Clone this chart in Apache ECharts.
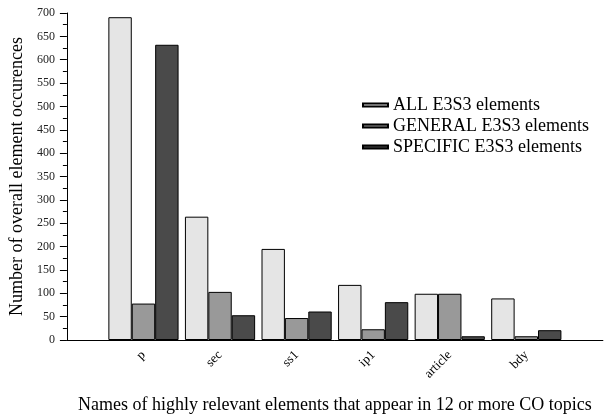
<!DOCTYPE html>
<html>
<head>
<meta charset="utf-8">
<script src="https://cdn.jsdelivr.net/npm/echarts@6/dist/echarts.min.js"></script>
<style>
html,body{margin:0;padding:0;background:#fff;}
#chart{width:605px;height:419px;}
</style>
</head>
<body>
<div id="chart"></div>
<script>
var categories = ['p', 'sec', 'ss1', 'ip1', 'article', 'bdy'];
var seriesNames = ['ALL E3S3 elements', 'GENERAL E3S3 elements', 'SPECIFIC E3S3 elements'];
var allValues = [691, 264, 195, 118, 99, 89];
var generalValues = [78, 103, 47, 23, 99, 8];
var specificValues = [632, 53, 61, 81, 8, 21];
var yTicks = [0, 50, 100, 150, 200, 250, 300, 350, 400, 450, 500, 550, 600, 650, 700];

// empty padding slots at both ends of the category axis
var axisCats = [''].concat(categories).concat(['']);
function pad(arr) { return [null].concat(arr).concat([null]); }

var FONT = '"Liberation Serif", "Times New Roman", serif';
var colors = ['#e5e5e5', '#999999', '#4a4a4a'];

var chart = echarts.init(document.getElementById('chart'), null, {renderer: 'canvas'});
var valuesList = [allValues, generalValues, specificValues];
var series = seriesNames.map(function (name, i) {
  return {
    name: name,
    type: 'bar',
    data: pad(valuesList[i]),
    barWidth: 23.4,
    barGap: '0%',
    itemStyle: {color: colors[i], borderColor: '#000', borderWidth: 1},
    emphasis: {disabled: true}
  };
});

chart.setOption({
  animation: false,
  textStyle: {fontFamily: FONT},
  grid: {left: 62, right: -5, top: 13, bottom: 79, containLabel: false},
  legend: {
    orient: 'vertical',
    left: 362,
    top: 96,
    padding: 0,
    itemWidth: 25,
    itemHeight: 3,
    itemGap: 3,
    icon: 'rect',
    textStyle: {fontFamily: FONT, fontSize: 18, color: '#000'},
    data: seriesNames
  },
  xAxis: {
    type: 'category',
    data: axisCats,
    boundaryGap: false,
    axisLine: {lineStyle: {color: '#000', width: 1}},
    axisTick: {show: false},
    axisLabel: {
      interval: 0,
      rotate: 45,
      margin: 13,
      fontFamily: FONT,
      fontSize: 13,
      color: '#000'
    },
    name: 'Names of highly relevant elements that appear in 12 or more CO topics',
    nameLocation: 'middle',
    nameGap: 56,
    nameTextStyle: {fontFamily: FONT, fontSize: 18, color: '#000'}
  },
  yAxis: {
    type: 'value',
    min: yTicks[0],
    max: yTicks[yTicks.length - 1],
    interval: yTicks[1] - yTicks[0],
    splitLine: {show: false},
    axisLine: {show: true, lineStyle: {color: '#000', width: 1}},
    axisTick: {show: true, length: 7, lineStyle: {color: '#000'}},
    minorTick: {show: true, splitNumber: 2, length: 4, lineStyle: {color: '#000'}},
    axisLabel: {fontFamily: FONT, fontSize: 12, color: '#222', margin: 12},
    name: 'Number of overall element occurences',
    nameLocation: 'middle',
    nameGap: 40,
    nameTextStyle: {fontFamily: FONT, fontSize: 18, color: '#000'}
  },
  series: series
});
</script>
</body>
</html>
